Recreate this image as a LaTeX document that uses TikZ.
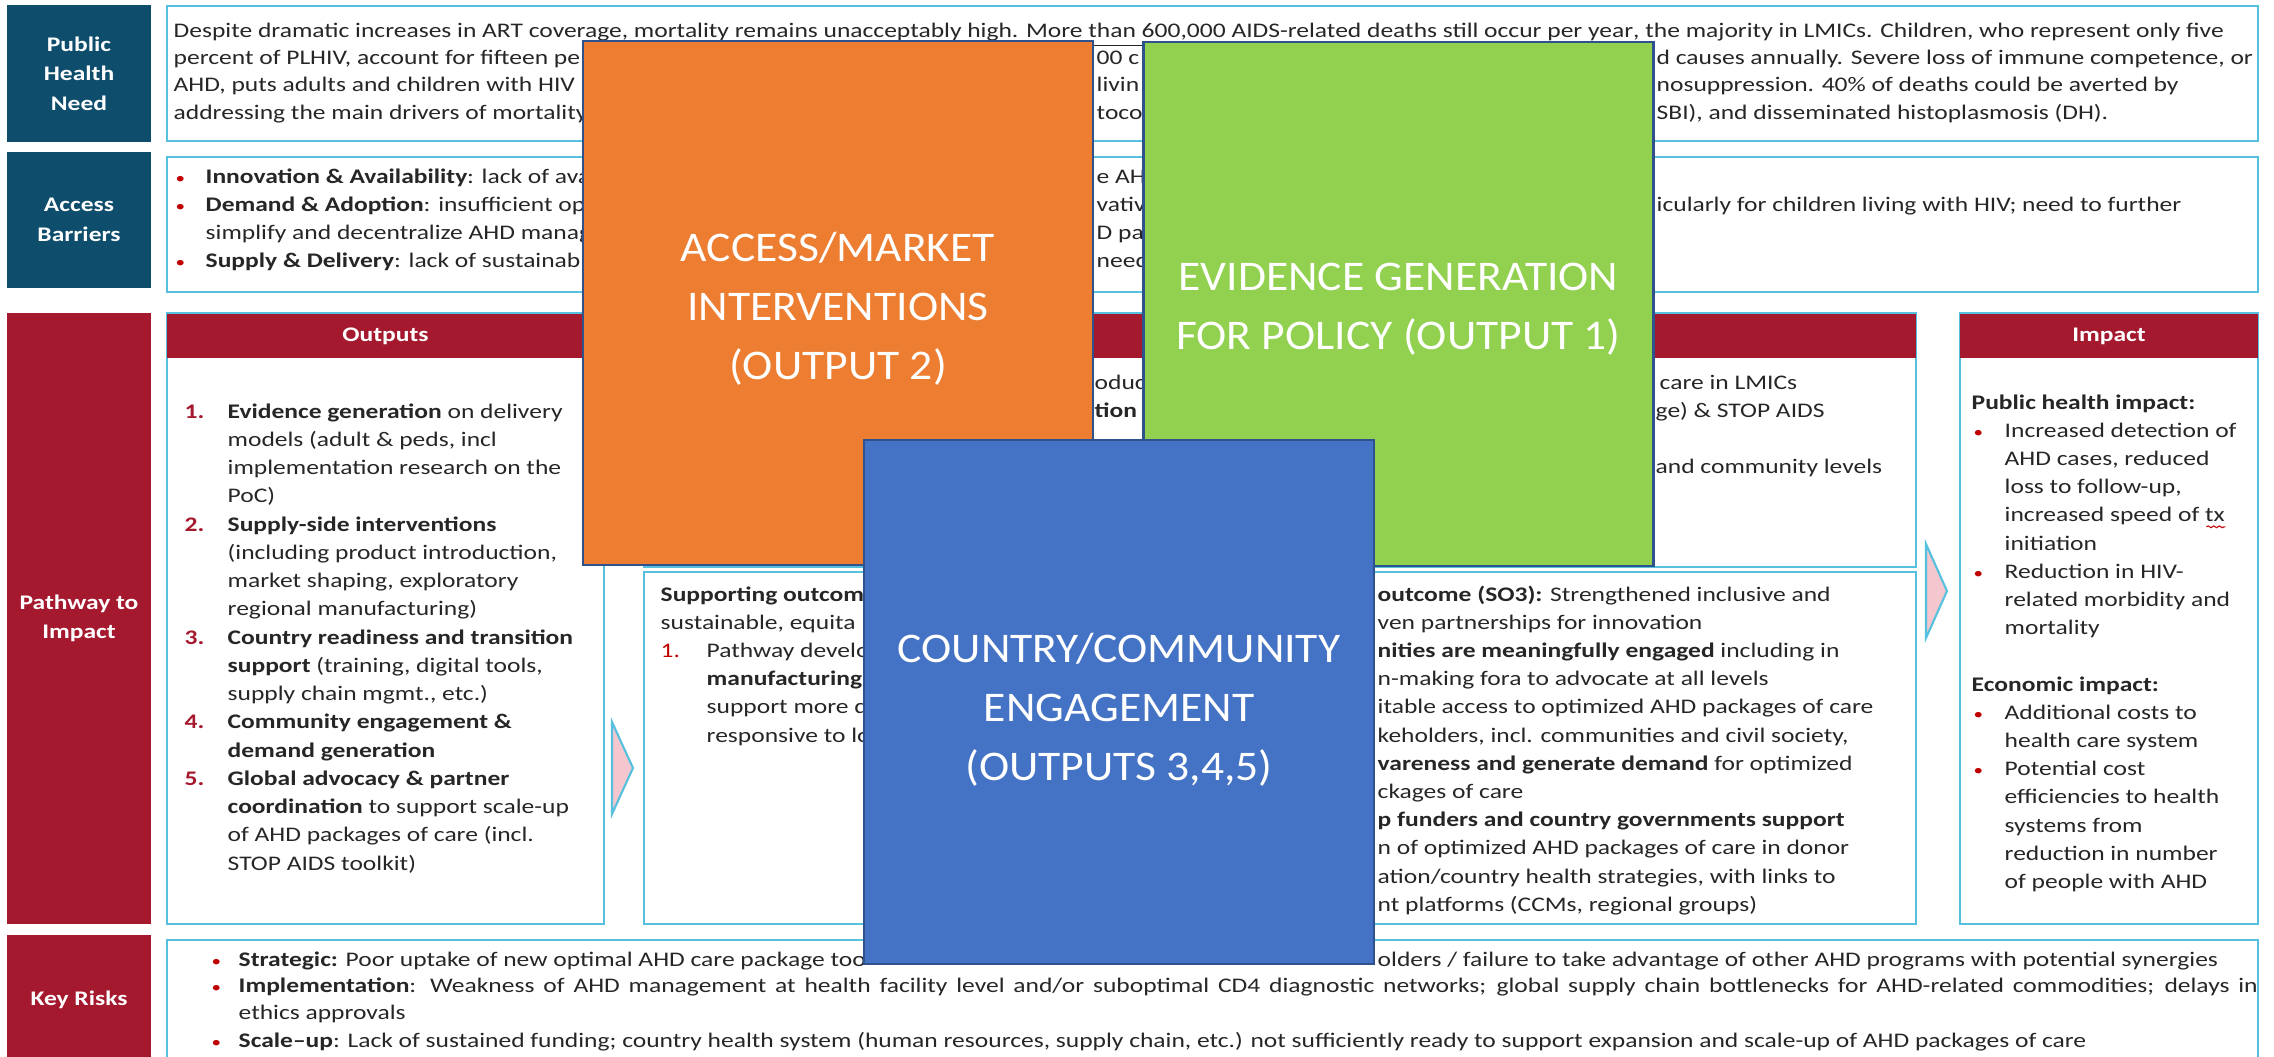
\documentclass[tikz,border=0pt]{standalone}
\usepackage{fontspec}
\setmainfont{Carlito}[FakeStretch=1.23]
\newfontfamily\boxfont{Carlito}[FakeStretch=1.08]
\usepackage{xcolor}
\usetikzlibrary{calc,decorations.pathmorphing}

\definecolor{needteal}{HTML}{0E4E6C}
\definecolor{pathred}{HTML}{A5192F}
\definecolor{rimblue}{HTML}{55C1DE}
\definecolor{numred}{HTML}{C00000}
\definecolor{arrowpink}{HTML}{F4C6CE}
\definecolor{mktorange}{HTML}{ED7D31}
\definecolor{evgreen}{HTML}{92D050}
\definecolor{engblue}{HTML}{4472C4}
\definecolor{boxrim}{HTML}{2F528F}

\tikzset{
  txt/.style={anchor=base west, inner sep=0pt, text=black!85, font=\fontsize{5.9}{7.8}\selectfont},
  bullet/.style={txt, text=numred, font=\fontsize{4.4}{7.8}\selectfont},
  sidebox/.style={fill=needteal, text=white, inner sep=0pt, align=center, minimum width=1.44cm, font=\fontsize{5.9}{8.4}\selectfont\bfseries},
  headbar/.style={fill=pathred, text=white, inner sep=0pt, minimum height=0.44cm, font=\fontsize{5.9}{7.8}\selectfont\bfseries},
  rimline/.style={draw=rimblue, line width=0.7pt},
  chevron/.style={draw=rimblue, fill=arrowpink, line width=0.6pt},
  bigbox/.style={draw=boxrim, line width=0.7pt, inner sep=0pt, minimum width=5.1cm, minimum height=5.24cm},
  bigtext/.style={text=white, align=center, inner sep=0pt, font=\boxfont\fontsize{12}{16.8}\selectfont}
}

\begin{document}
\begin{tikzpicture}[x=0.01cm, y=-0.01cm]
\useasboundingbox (0,0) rectangle (2274,1057);

% row labels
\node[sidebox, minimum height=1.37cm] (need) at (79,73.5) {Public\\Health\\Need};
\node[sidebox, minimum height=1.36cm] (barrier) at (79,220) {Access\\Barriers};
\node[sidebox, fill=pathred, minimum height=6.11cm] (pathway) at (79,618.5) {Pathway to\\Impact};
\node[sidebox, fill=pathred, minimum height=1.3cm] (risks) at (79,1000) {Key Risks};

% frames
\draw[rimline] (167,6) rectangle (2258,141);
\draw[rimline] (167,157) rectangle (2258,292);
\draw[rimline] (167,313) rectangle (604,924);
\draw[rimline] (644,313) rectangle (1916,567);
\draw[rimline] (644,572) rectangle (1916,924);
\draw[rimline] (1960,313) rectangle (2258,924);
\draw[rimline] (167,940) rectangle (2258,1080);

\node[headbar, minimum width=4.37cm] (outhead) at (385.5,336) {Outputs};
\node[headbar, minimum width=12.72cm] (midhead) at (1280,336) {};
\node[headbar, minimum width=2.98cm] (imphead) at (2109,336) {Impact};

\draw[chevron] (612,722) -- (633,768) -- (612,814) -- cycle;
\draw[chevron] (1926,544) -- (1947,591) -- (1926,638) -- cycle;

% public health need
\node[txt] (need0) at (173,37) {Despite dramatic increases in ART coverage, \underline{mortality remains unacceptably high. More than 600,000 AIDS-related deaths still occur per year}, the majority in LMICs. Children, who represent only five};
\foreach \t [count=\i from 1] in {{percent of PLHIV, account for fifteen pe},{AHD, puts adults and children with HIV},{addressing the main drivers of mortality}}
  \node[txt] (needl\i) at (173,37+27.4*\i) {\t};
\foreach \t [count=\i from 1] in {{00 c},{livin},{tococ}}
  \node[txt] (needm\i) at (1096,37+27.4*\i) {\t};
\foreach \t [count=\i from 1] in {{d causes annually. Severe loss of immune competence, or},{nosuppression. 40\% of deaths could be averted by},{SBI), and disseminated histoplasmosis (DH).}}
  \node[txt] (needr\i) at (1656,37+27.4*\i) {\t};

% access barriers
\foreach \k in {0,1,3}
  \node[bullet] (bardot\k) at (175,183+28*\k) {•};
\foreach \t [count=\i from 0] in {{\textbf{Innovation \& Availability}: lack of avail},{\textbf{Demand \& Adoption}: insufficient ope},{simplify and decentralize AHD manag},{\textbf{Supply \& Delivery}: lack of sustainable}}
  \node[txt] (barl\i) at (205,183+28*\i) {\t};
\foreach \t [count=\i from 0] in {{e AHD},{vativ},{D pa},{need}}
  \node[txt] (barm\i) at (1096,183+28*\i) {\t};
\node[txt] (barr1) at (1656,211) {icularly for children living with HIV; need to further};

% outputs
\foreach \n/\k in {1/0,2/4,3/8,4/11,5/13}
  \node[txt, text=pathred, font=\fontsize{5.9}{7.8}\selectfont\bfseries] (outnum\n) at (184,418+28.25*\k) {\n.};
\foreach \t [count=\i from 0] in {{\textbf{Evidence  generation} on delivery},{models (adult \& peds, incl},{implementation research on the},{PoC)},{\textbf{Supply-side interventions}},{(including product introduction,},{market shaping, exploratory},{regional manufacturing)},{\textbf{Country readiness and transition}},{\textbf{support} (training, digital tools,},{supply chain mgmt., etc.)},{\textbf{Community engagement \&}},{\textbf{demand generation}},{\textbf{Global advocacy \& partner}},{\textbf{coordination} to support scale-up},{of AHD packages of care (incl.},{STOP AIDS toolkit)}}
  \node[txt] (out\i) at (227,418+28.25*\i) {\t};

% outcomes
\node[txt] (topm1) at (1094,389) {oducti};
\node[txt] (topm2) at (1094,417) {\textbf{tion} (};
\node[txt] (topr1) at (1659,389) {care in LMICs};
\node[txt] (topr2) at (1655,417) {ge) \& STOP AIDS};
\node[txt] (topr3) at (1655,473) {and community levels};

\node[txt] (supl0) at (660,601) {\textbf{Supporting outcom}};
\node[txt] (supl1) at (660,629.2) {sustainable, equita};
\node[txt, text=numred] (supnum) at (660,657.4) {1.};
\foreach \t [count=\i from 2] in {{Pathway develo},{\textbf{manufacturing}},{support more d},{responsive to lo}}
  \node[txt] (supl\i) at (706,601+28.2*\i) {\t};
\foreach \t [count=\i from 0] in {{\textbf{outcome (SO3):} Strengthened inclusive and},{ven partnerships for innovation},{\textbf{nities are meaningfully engaged} including in},{n-making fora to advocate at all levels},{itable access to optimized AHD packages of care},{keholders, incl. communities and civil society,},{\textbf{vareness and generate demand} for optimized},{ckages of care},{\textbf{p funders and country governments support}},{n of optimized AHD packages of care in donor},{ation/country health strategies, with links to},{nt platforms (CCMs, regional groups)}}
  \node[txt] (supr\i) at (1377,601+28.2*\i) {\t};

% impact
\node[txt] (imphead1) at (1971,409) {\textbf{Public health impact:}};
\node[txt] (imphead2) at (1971,691) {\textbf{Economic impact:}};
\foreach \k in {1,6,11,13}
  \node[bullet] (impdot\k) at (1973,409+28.2*\k) {•};
\foreach \t [count=\i from 1] in {{Increased detection of},{AHD cases, reduced},{loss to follow-up,},{increased speed of tx},{initiation},{Reduction in HIV-},{related morbidity and},{mortality}}
  \node[txt] (impa\i) at (2004,409+28.2*\i) {\t};
\foreach \t [count=\i from 11] in {{Additional costs to},{health care system},{Potential cost},{efficiencies to health},{systems from},{reduction in number},{of people with AHD}}
  \node[txt] (impb\i) at (2004,409+28.2*\i) {\t};
\draw[numred, line width=0.3pt, decorate, decoration={snake, amplitude=0.25pt, segment length=1.6pt}] ($(impa4.base east)+(-19,5)$) -- ($(impa4.base east)+(0,5)$);

% key risks
\foreach \k/\y in {1/966,2/992,4/1047}
  \node[bullet] (riskdot\k) at (211,\y) {•};
\node[txt] (risk1) at (238,966) {\textbf{Strategic:} Poor uptake of new optimal AHD care package too};
\node[txt] (risk1r) at (1377,966) {olders / failure to take advantage of other AHD programs with potential synergies};
\node[txt] (risk2) at (238,992) {\makebox[20.18cm][s]{\textbf{Implementation}: Weakness of AHD management at health facility level and/or suboptimal CD4 diagnostic networks; global supply chain bottlenecks for AHD-related commodities; delays in}};
\node[txt] (risk3) at (238,1019) {ethics approvals};
\node[txt] (risk4) at (238,1047) {\textbf{Scale–up}: Lack of sustained funding; country health system (human resources, supply chain, etc.) not sufficiently ready to support expansion and scale-up of AHD packages of care};

% overlaid boxes
\node[bigbox, fill=mktorange] (market) at (838,303) {};
\node[bigtext] (markettext) at (838,309) {ACCESS/MARKET\\INTERVENTIONS\\(OUTPUT 2)};
\node[bigbox, fill=evgreen] (evidence) at (1398.5,304) {};
\node[bigtext] (evidencetext) at (1398.5,309) {EVIDENCE GENERATION\\FOR POLICY (OUTPUT 1)};
\node[bigbox, fill=engblue] (country) at (1119,702) {};
\node[bigtext] (countrytext) at (1119,710) {COUNTRY/COMMUNITY\\ENGAGEMENT\\(OUTPUTS 3,4,5)};
\end{tikzpicture}
\end{document}
